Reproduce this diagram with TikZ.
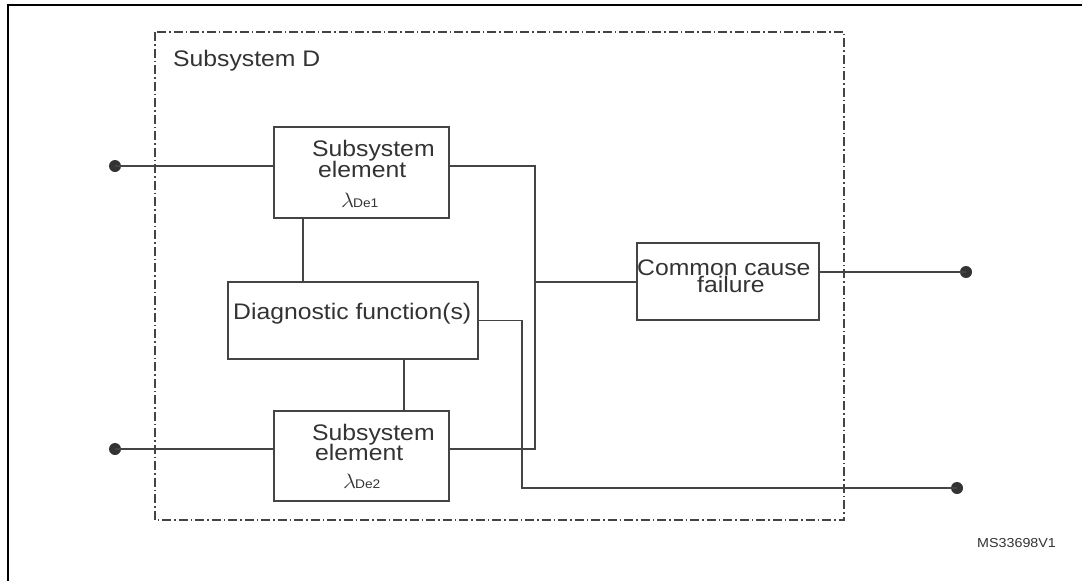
\documentclass[tikz,border=0pt]{standalone}
\usepackage{fontspec}
\setmainfont{Liberation Sans}
\definecolor{linegray}{HTML}{444444}
\definecolor{textgray}{HTML}{333333}
% slightly widened sans text
\newcommand{\wtxt}[1]{\scalebox{1.1}[1]{#1}}
\newcommand{\lam}[1]{\scalebox{1.1}[1]{\fontsize{21}{21}\selectfont$\lambda$\kern-1pt\fontsize{12.5}{13}\selectfont#1}}
\begin{document}
\begin{tikzpicture}[x=1pt,y=-1pt,
  wire/.style={draw=linegray,line width=1.4pt},
  blockbox/.style={draw=linegray,line width=1.4pt,rectangle,inner sep=0pt},
  txt/.style={inner sep=0pt,text=textgray,font=\fontsize{22.5}{24}\selectfont,anchor=base west},
  terminal/.style={circle,fill=textgray,inner sep=0pt,minimum size=12pt},
  dashdot/.style={draw=linegray,line width=1.3pt,dash pattern=on 9pt off 3pt on 1.5pt off 3pt}]
\useasboundingbox (0,0) rectangle (1082,581);
% outer frame
\draw[line width=2pt] (8,581) -- (8,5) -- (1082,5);
% subsystem boundary
\draw[dashdot] (155,32) rectangle (844,520);
\node[txt] (title) at (173,66) {\wtxt{Subsystem D}};
% blocks
\node[blockbox,minimum width=175pt,minimum height=91pt] (el1) at (361.5,172.5) {};
\node[blockbox,minimum width=250pt,minimum height=77pt] (diag) at (353,320.5) {};
\node[blockbox,minimum width=175pt,minimum height=90pt] (el2) at (361.5,456) {};
\node[blockbox,minimum width=182pt,minimum height=77pt] (ccf) at (728,281.5) {};
% block texts
\node[txt] (el1a) at (312,156) {\wtxt{Subsystem}};
\node[txt] (el1b) at (318,177) {\wtxt{element}};
\node[txt] (el1c) at (341,207) {\lam{De1}};
\node[txt] (el2a) at (312,440) {\wtxt{Subsystem}};
\node[txt] (el2b) at (315,460) {\wtxt{element}};
\node[txt] (el2c) at (343,488) {\lam{De2}};
\node[txt] (diagt) at (233,319) {\wtxt{Diagnostic function(s)}};
\node[txt] (ccfa) at (637,275) {\wtxt{Common cause}};
\node[txt] (ccfb) at (697,292) {\wtxt{failure}};
\node[txt,font=\fontsize{13}{14}\selectfont] (ref) at (977,547) {\wtxt{MS33698V1}};
% terminals
\node[terminal] (in1) at (115,166) {};
\node[terminal] (in2) at (115,449) {};
\node[terminal] (out1) at (966,272) {};
\node[terminal] (out2) at (957,488) {};
% junction points
\coordinate (j1) at (535,166);
\coordinate (j2) at (535,449);
\coordinate (j3) at (535,282);
\coordinate (d1) at (522,320.5);
\coordinate (d2) at (522,488);
\coordinate (t1) at (303,0);
\coordinate (t2) at (404,0);
% connectors
\draw[wire] (in1.center) -- (in1 -| el1.west);
\draw[wire] (in2.center) -- (in2 -| el2.west);
\draw[wire] (j1 -| el1.east) -- (j1) -- (j2) -- (j2 -| el2.east);
\draw[wire] (j3) -- (j3 -| ccf.west);
\draw[wire] (out1 -| ccf.east) -- (out1.center);
\draw[wire] (diag.east) -- (d1) -- (d2) -- (out2.center);
\draw[wire] (el1.south -| t1) -- (diag.north -| t1);
\draw[wire] (diag.south -| t2) -- (el2.north -| t2);
\end{tikzpicture}
\end{document}
